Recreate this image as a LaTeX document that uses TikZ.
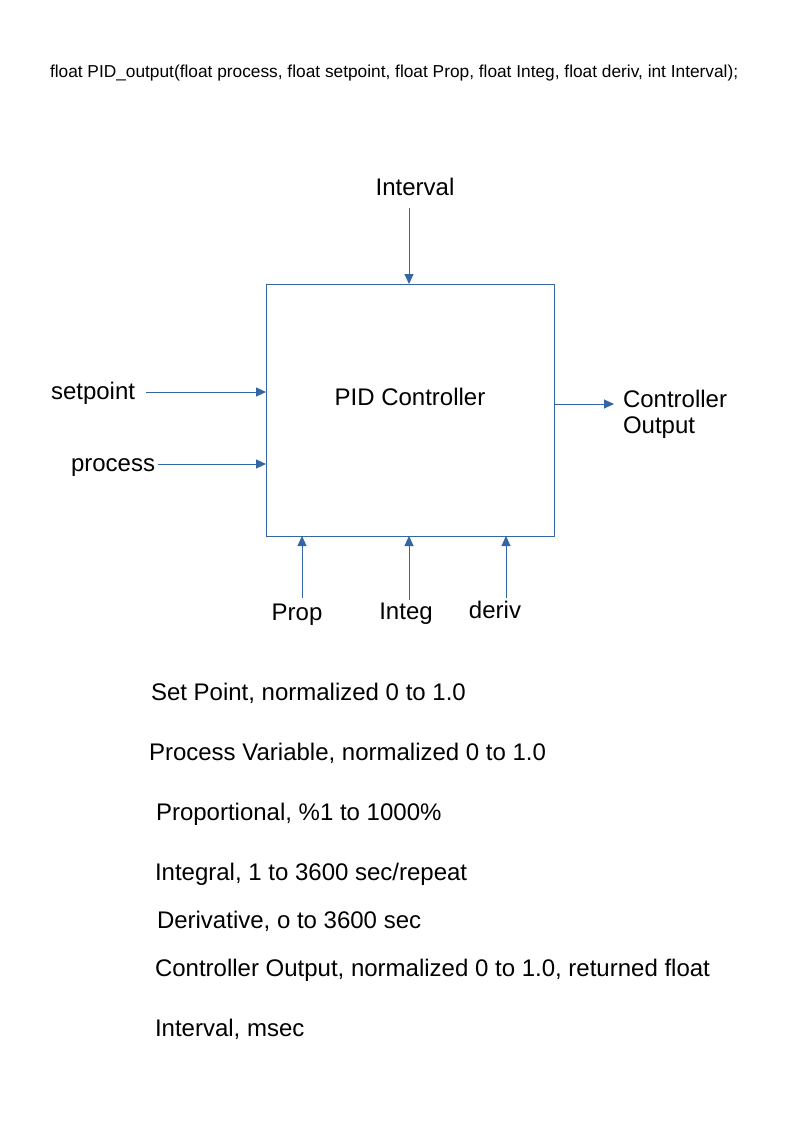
\documentclass[tikz,border=0pt]{standalone}
\usepackage{fontspec}
\setmainfont{Liberation Sans}
\usetikzlibrary{arrows.meta}
\usetikzlibrary{positioning}
\usetikzlibrary{calc}
\definecolor{pidblue}{HTML}{3465A4}

\begin{document}
\begin{tikzpicture}[
        x=1pt,y=-1pt,
        every node/.style={font=\fontsize{24}{26}\selectfont,inner sep=0pt,outer sep=0pt},
        block/.style={rectangle,draw=pidblue,line width=1pt,minimum width=288pt,minimum height=252pt},
        port/.style={anchor=base west},
        note/.style={anchor=base west},
        flow/.style={draw=pidblue,line width=1pt,-{Triangle[length=10pt,width=9pt]}}
      ]
      \useasboundingbox (0,0) rectangle (794,1123);

      % prototype
      \node (proto)[anchor=base west,font=\fontsize{17.3}{20}\selectfont] at (50,78)
        {float PID\_output(float process, float setpoint, float Prop, float Integ, float deriv, int Interval);};

      % controller block
      \node (pid)[block] at (410,410) {};
      \node (pidtext)[anchor=base] at (410,405) {PID Controller};

      % inputs and output
      \node (interval)[anchor=base] at (415,196) {Interval};
      \node (setpoint)[port] at (51,399) {setpoint};
      \node (process)[port] at (71,471) {process};
      \node (outA)[port] at (623,407) {Controller};
      \node (outB)[port] at (623,433) {Output};
      \node (prop)[anchor=base] at (297,620) {Prop};
      \node (integ)[anchor=base] at (406,619) {Integ};
      \node (deriv)[anchor=base] at (495,618) {deriv};

      \coordinate (cInt) at (409,208);
      \coordinate (cSet) at (146,392);
      \coordinate (cProc) at (158,464);
      \coordinate (cOut) at (614,404);
      \coordinate (cProp) at (302,598);
      \coordinate (cInteg) at (409,600);
      \coordinate (cDeriv) at (506,598);

      \draw[flow] (cInt) -- (cInt |- pid.north);
      \draw[flow] (cSet) -- (cSet -| pid.west);
      \draw[flow] (cProc) -- (cProc -| pid.west);
      \draw[flow] (cOut -| pid.east) -- (cOut);
      \draw[flow] (cProp) -- (cProp |- pid.south);
      \draw[flow] (cInteg) -- (cInteg |- pid.south);
      \draw[flow] (cDeriv) -- (cDeriv |- pid.south);

      % legend
      \node (nSet)[note] at (151,700) {Set Point, normalized 0 to 1.0};
      \node (nProc)[note] at (149,760) {Process Variable, normalized 0 to 1.0};
      \node (nProp)[note] at (156,820) {Proportional, \%1 to 1000\%};
      \node (nInteg)[note] at (155,880) {Integral, 1 to 3600 sec/repeat};
      \node (nDeriv)[note] at (157,928) {Derivative, o to 3600 sec};
      \node (nOut)[note] at (155,976) {Controller Output, normalized 0 to 1.0, returned float};
      \node (nInt)[note] at (155,1036) {Interval, msec};
    \end{tikzpicture}
\end{document}
